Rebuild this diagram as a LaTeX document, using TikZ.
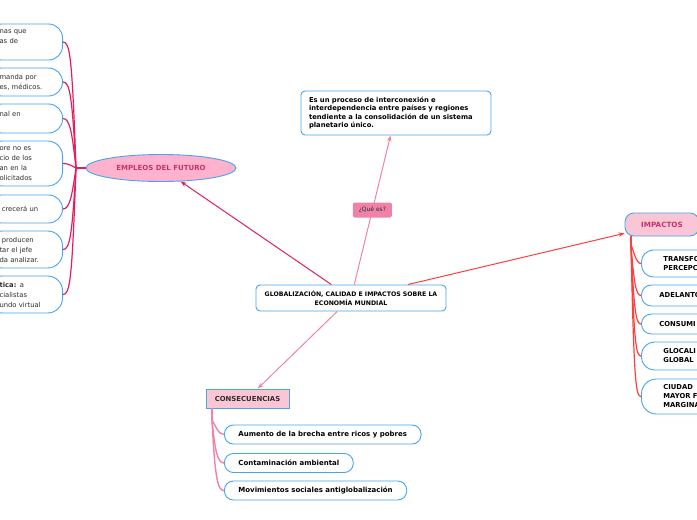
\documentclass[tikz,border=0pt]{standalone}
\usepackage{fontspec}
\setmainfont{DejaVu Sans}
\usetikzlibrary{positioning, arrows.meta, shapes.geometric, calc}
\definecolor{bordeazul}{RGB}{70,165,235}
\definecolor{carmin}{RGB}{226,30,92}
\definecolor{rojo}{RGB}{255,62,62}
\definecolor{rosa}{RGB}{240,130,170}
\definecolor{rosaclaro}{RGB}{250,198,214}
\definecolor{rosaelipse}{RGB}{255,178,206}
\definecolor{textorosa}{RGB}{196,52,108}
\definecolor{textogris}{RGB}{45,45,45}

\begin{document}
\begin{tikzpicture}[x=1pt, y=-1pt,
  caja/.style={draw=bordeazul, line width=0.9pt, fill=white, rounded corners=4pt,
    font=\fontsize{6.2}{8.6}\selectfont\bfseries},
  hoja/.style={draw=bordeazul, line width=0.9pt, fill=white, rounded corners=#1,
    font=\fontsize{6.8}{10}\selectfont, text=textogris, align=left,
    text width=51pt, inner xsep=12pt, inner ysep=0pt, anchor=east},
  hojader/.style={draw=bordeazul, line width=0.9pt, fill=white, rounded corners=#1,
    font=\fontsize{6.8}{9}\selectfont\bfseries, align=left,
    text width=60pt, inner xsep=22pt, inner ysep=0pt, anchor=west},
  hojacon/.style={draw=bordeazul, line width=0.9pt, fill=white, rounded corners=9pt,
    font=\fontsize{7}{8}\selectfont\bfseries, inner xsep=14pt, inner ysep=0pt,
    minimum height=19pt, anchor=west},
  flecha/.style={line width=1pt, -{Stealth[length=6pt, width=4.5pt]}},
]
\useasboundingbox (0,0) rectangle (697,520);
\clip (0,0) rectangle (697,520);

% centro y descripcion
\node[caja, minimum width=190pt, minimum height=26pt, align=center, inner sep=2pt]
  (central) at (351,298) {GLOBALIZACIÓN, CALIDAD E IMPACTOS SOBRE LA\\ECONOMÍA MUNDIAL};
\node[caja, font=\fontsize{6.8}{8.5}\selectfont\bfseries, text width=174pt, inner xsep=8pt,
  minimum height=44pt, align=left] (descripcion) at (396,113)
  {Es un proceso de interconexión e\\interdependencia entre países y regiones\\tendiente a la consolidación de un sistema\\planetario único.};

% ramas principales
\node[ellipse, draw=bordeazul, line width=0.9pt, fill=rosaelipse, minimum width=150pt,
  minimum height=27pt, inner sep=0pt, text=textorosa,
  font=\fontsize{7}{8}\selectfont\bfseries] (empleos) at (161,168) {EMPLEOS DEL FUTURO};
\node[draw=bordeazul, line width=0.9pt, fill=rosaclaro, rounded corners=9pt,
  minimum width=74pt, minimum height=23pt, text=textorosa,
  font=\fontsize{7.2}{8}\selectfont\bfseries] (impactos) at (662,224.5) {IMPACTOS};
\node[draw=bordeazul, line width=0.9pt, fill=rosaclaro, minimum width=83pt,
  minimum height=19pt, inner sep=0pt, text=textogris,
  font=\fontsize{6.9}{8}\selectfont\bfseries] (consecuencias) at (247.5,398.5) {CONSECUENCIAS};

\draw[flecha, carmin] (central) -- (empleos);
\draw[flecha, rojo] (central) -- (impactos);
\draw[flecha, rosa] (central) -- (consecuencias);
\draw[flecha, rosa] (central) -- node[fill=rosa, rounded corners=2pt, text=textogris,
  font=\fontsize{6}{7}\selectfont, minimum width=39pt, minimum height=15pt,
  inner sep=1pt] (quees) {¿Qué es?} (descripcion);

% empleos del futuro
\node[hoja=14pt, minimum height=36pt] (e1) at (63,42) {nas que\\as de\\\mbox{}};
\node[hoja=14pt, minimum height=28pt] (e2) at (63,82) {manda por\\es, médicos.};
\node[hoja=14pt, minimum height=29pt] (e3) at (63,118.5) {nal en\\\mbox{}};
\node[hoja=15pt, minimum height=45pt] (e4) at (63,163.5) {ore no es\\cio de los\\an en la\\olicitados};
\node[hoja=14pt, minimum height=28pt] (e5) at (63,209) {\ crecerá un};
\node[hoja=15pt, minimum height=37pt] (e6) at (63,249.5) {\ producen\\tar el jefe\\da analizar.};
\node[hoja=15pt, minimum height=37pt] (e7) at (63,294.5) {\textbf{tica:} a\\cialistas\\undo virtual};

\coordinate (hubizq) at (76,168);
\draw[carmin, line width=1.2pt] (empleos.west) -- (hubizq);
\foreach \n/\y/\d in {e1/42/14, e2/82/14, e3/118.5/14, e4/163.5/3, e5/209/-14, e6/249.5/-14, e7/294.5/-14}
  \draw[carmin, line width=1.2pt] (hubizq) .. controls (72,{\y+(\d)}) and (70,\y) .. (\n.east);

% impactos
\node[hojader=12pt, minimum height=27pt] (i1) at (641,263.5) {TRANSFO\\PERCEPC};
\node[hojader=10pt, minimum height=21pt, inner xsep=18pt] (i2) at (641,295.5) {ADELANTO};
\node[hojader=10pt, minimum height=20pt, inner xsep=18pt] (i3) at (641,324) {CONSUMI};
\node[hojader=13pt, minimum height=28pt] (i4) at (641,356) {GLOCALI\\GLOBAL};
\node[hojader=15pt, minimum height=35pt] (i5) at (641,396.5) {CIUDAD\\MAYOR F\\MARGINA};

\coordinate (hubder) at (631,245);
\draw[rojo, line width=1.2pt] (impactos.south -| hubder) -- (hubder);
\foreach \n/\y in {i1/263.5, i2/295.5, i3/324, i4/356, i5/396.5}
  \draw[rojo, line width=1.2pt] (hubder) .. controls (634,{\y-12}) and (636,\y) .. (\n.west);

% consecuencias
\node[hojacon] (c1) at (224,434.5) {Aumento de la brecha entre ricos y pobres};
\node[hojacon] (c2) at (224,463) {Contaminación ambiental};
\node[hojacon] (c3) at (224,490.5) {Movimientos sociales antiglobalización};

\coordinate (hubcon) at (212,420);
\draw[rosa, line width=1.4pt] (consecuencias.south -| hubcon) -- (hubcon);
\foreach \n/\y in {c1/434.5, c2/463, c3/490.5}
  \draw[rosa, line width=1.4pt] (hubcon) .. controls (215,{\y-10}) and (218,\y) .. (\n.west);
\end{tikzpicture}
\end{document}
